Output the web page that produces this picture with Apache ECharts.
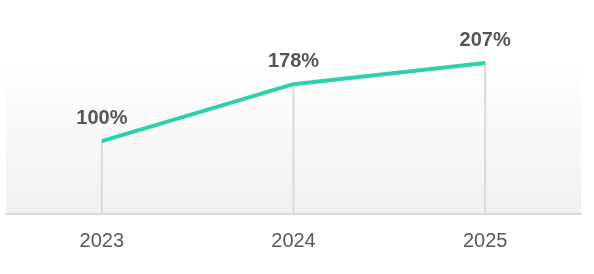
<!DOCTYPE html>
<html><head><meta charset="utf-8">
<style>html,body{margin:0;padding:0;background:#fff;}#c{width:594px;height:274px;}</style>
<script src="https://cdn.jsdelivr.net/npm/echarts@6/dist/echarts.min.js"></script>
</head><body><div id="c"></div>
<script>
var categories = ['2023', '2024', '2025'];
var values = [100, 178, 207];
var labelSuffix = '%';

var chart = echarts.init(document.getElementById('c'), null, {renderer: 'canvas'});
chart.setOption({
  animation: false,
  grid: {
    left: 6, right: 13, top: 63, bottom: 60,
    show: true, borderWidth: 0,
    backgroundColor: new echarts.graphic.LinearGradient(0, 0, 0, 1, [
      {offset: 0, color: '#ffffff'},
      {offset: 1, color: '#f1f1f1'}
    ])
  },
  xAxis: {
    type: 'category', data: categories, boundaryGap: true,
    axisLine: {lineStyle: {color: '#d9d9d9', width: 2}},
    axisTick: {show: false},
    axisLabel: {fontFamily: 'Liberation Sans, Arial', fontSize: 20, color: '#595959', margin: 17}
  },
  yAxis: {
    type: 'value', min: 0, max: 207, show: false,
    splitLine: {show: false}
  },
  series: [
    {
      type: 'bar', data: values, barWidth: 2, silent: true,
      itemStyle: {color: '#d9d9d9'}, z: 1
    },
    {
      type: 'line', data: values, symbol: 'circle', symbolSize: 0, showSymbol: true, z: 3,
      itemStyle: {color: '#2ccfb0'},
      lineStyle: {color: '#2ccfb0', width: 4},
      label: {
        show: true, position: 'top', distance: 13,
        formatter: function (p) { return p.value + labelSuffix; },
        fontFamily: 'Liberation Sans, Arial', fontSize: 20, fontWeight: 'bold', color: '#555555'
      }
    }
  ]
});
</script></body></html>
